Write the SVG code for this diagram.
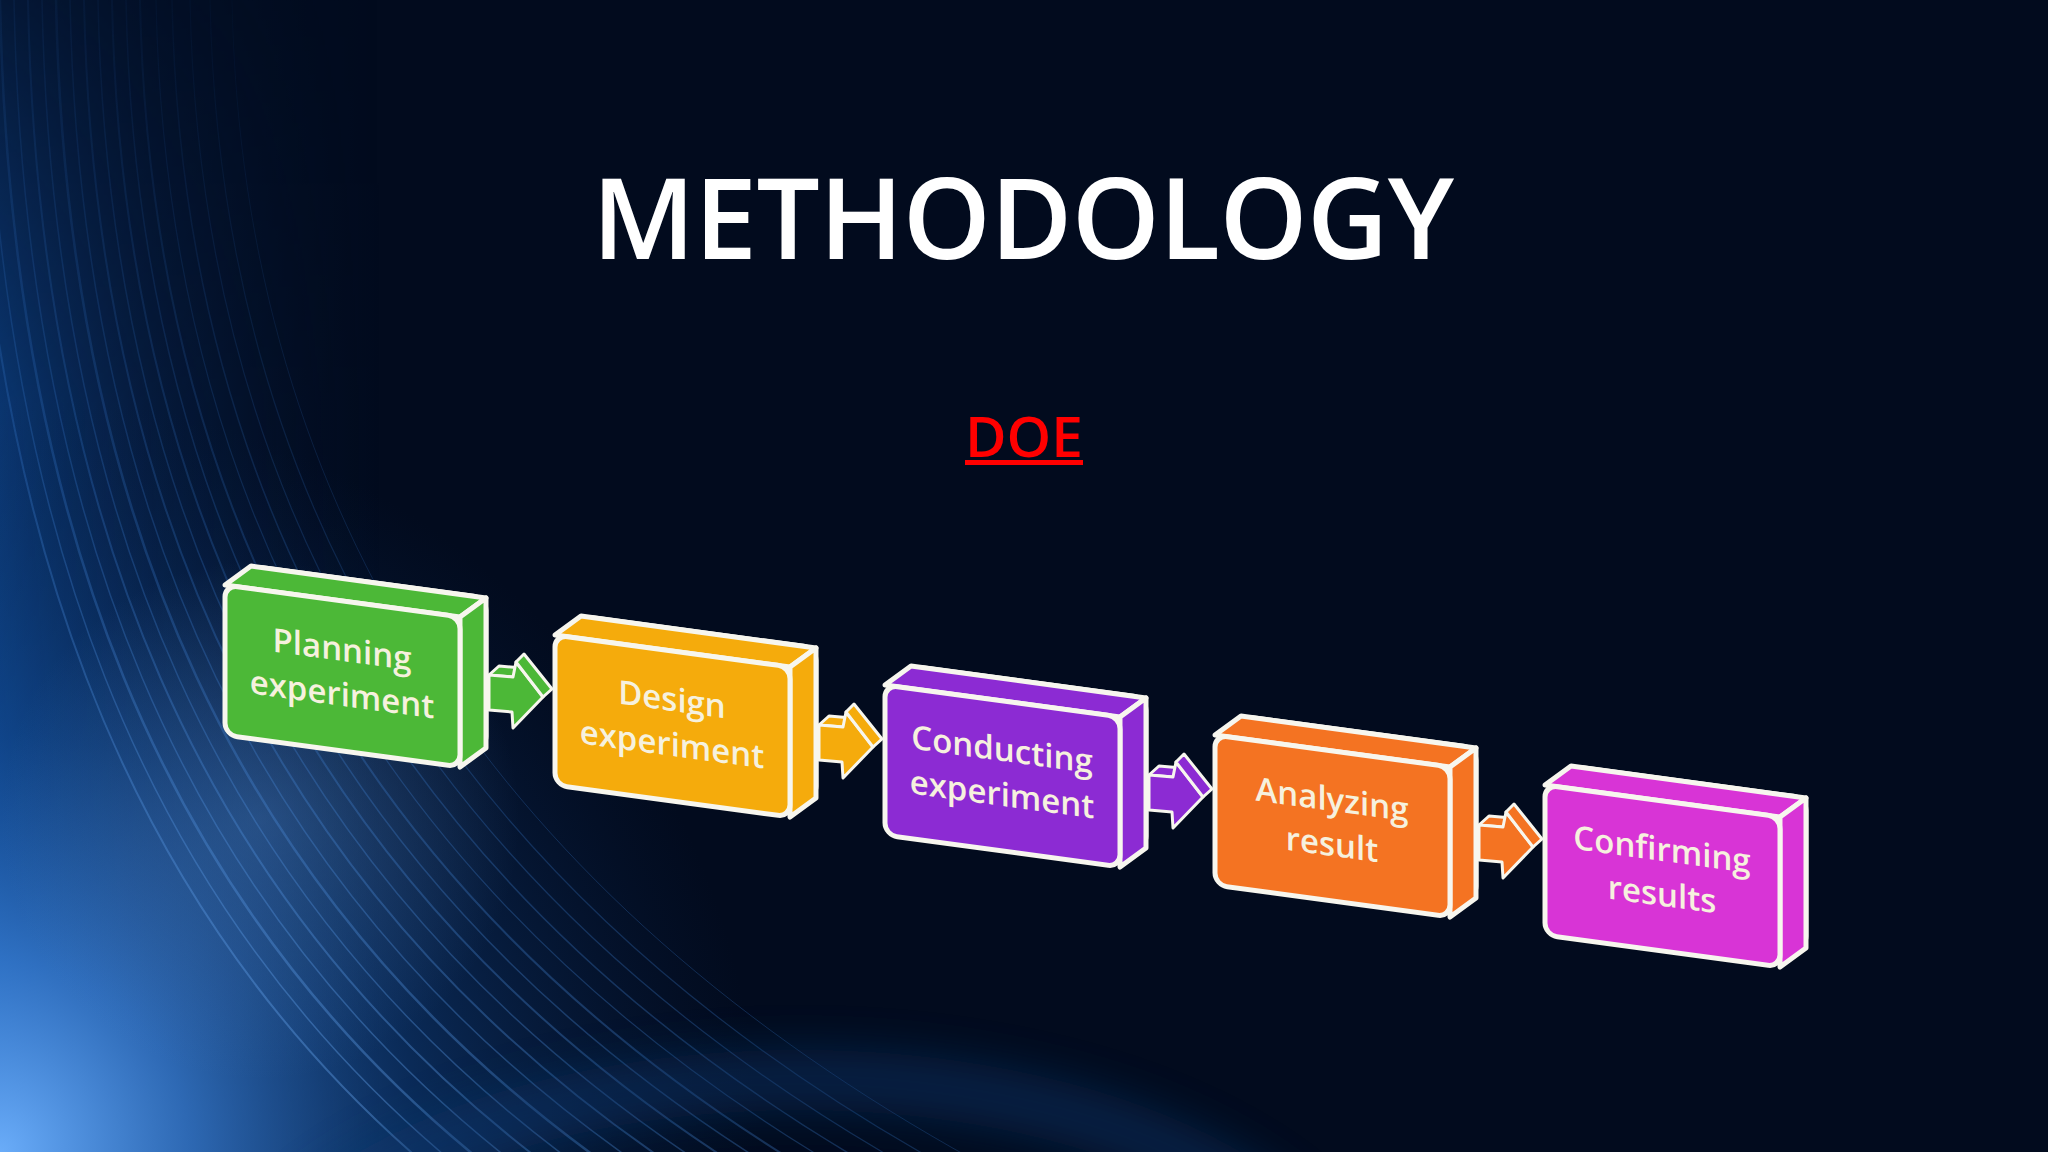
<svg xmlns="http://www.w3.org/2000/svg" xmlns:xlink="http://www.w3.org/1999/xlink" width="2048" height="1152" viewBox="0 0 2048 1152">
  <defs>
    <radialGradient id="gCorner" cx="0" cy="1152" r="760" gradientUnits="userSpaceOnUse">
      <stop offset="0" stop-color="#6fb2ff" stop-opacity="0.95"/>
      <stop offset="0.25" stop-color="#3b83dc" stop-opacity="0.75"/>
      <stop offset="0.55" stop-color="#14519e" stop-opacity="0.45"/>
      <stop offset="1" stop-color="#0a2a5a" stop-opacity="0"/>
    </radialGradient>
    <linearGradient id="gLeft" x1="0" y1="0" x2="380" y2="0" gradientUnits="userSpaceOnUse">
      <stop offset="0" stop-color="#0f4a96" stop-opacity="0.85"/>
      <stop offset="0.4" stop-color="#0b3570" stop-opacity="0.45"/>
      <stop offset="1" stop-color="#061a3a" stop-opacity="0"/>
    </linearGradient>
    <linearGradient id="gLeftFade" x1="0" y1="0" x2="0" y2="1152" gradientUnits="userSpaceOnUse">
      <stop offset="0" stop-color="#fff" stop-opacity="0.25"/>
      <stop offset="0.35" stop-color="#fff" stop-opacity="0.8"/>
      <stop offset="1" stop-color="#fff" stop-opacity="1"/>
    </linearGradient>
    <mask id="mLeft"><rect x="0" y="0" width="600" height="1152" fill="url(#gLeftFade)"/></mask>
    <linearGradient id="gStreak" x1="0" y1="1152" x2="700" y2="250" gradientUnits="userSpaceOnUse">
      <stop offset="0" stop-color="#8cc4ff" stop-opacity="0.55"/>
      <stop offset="0.5" stop-color="#3a7fd6" stop-opacity="0.3"/>
      <stop offset="1" stop-color="#1a4f99" stop-opacity="0"/>
    </linearGradient>
    <radialGradient id="gHaze" cx="260" cy="820" r="260" gradientUnits="userSpaceOnUse">
      <stop offset="0" stop-color="#5b8fd0" stop-opacity="0.35"/>
      <stop offset="1" stop-color="#5b8fd0" stop-opacity="0"/>
    </radialGradient>
    <filter id="blur20" x="-50%" y="-50%" width="200%" height="200%"><feGaussianBlur stdDeviation="22"/></filter>
    <style>
      .edge { stroke: #f7f6ee; stroke-width: 5; stroke-linejoin: round; }
      .aedge { stroke: #f7f6ee; stroke-width: 3; stroke-linejoin: round; }
      .lbl { font-family: "Open Sans", "Noto Sans", sans-serif; font-weight: 600; font-size: 33px; fill: #f6f1de; text-anchor: middle; }
      .streak { fill: none; stroke: url(#gStreak); }
    </style>
    <g id="boxShape">
      <g transform="translate(26,-19) skewY(7.75)"><rect x="0" y="0" width="235" height="150" rx="12" class="edge"/></g>
      <polygon points="0,0 26,-19 261,13 235,32" class="edge"/>
      <polygon points="235,32 261,13 261,163 235,182" class="edge"/>
      <g transform="skewY(7.75)"><rect x="0" y="0" width="235" height="150" rx="12" class="edge"/></g>
    </g>
    <g id="arrowShape">
      <polygon points="264,90 274,81 297,83 288,92" class="aedge"/>
      <polygon points="264,90 288,92 291,77 318,112 288,143 287,127 264,125" class="aedge"/>
      <polygon points="291,77 299,69 327,104 318,112" class="aedge"/>
    </g>
  </defs>

  <!-- background -->
  <rect x="0" y="0" width="2048" height="1152" fill="#020b1e"/>
  <g id="background">
    <rect x="0" y="0" width="420" height="1152" fill="url(#gLeft)" mask="url(#mLeft)"/>
    <rect x="0" y="300" width="1000" height="852" fill="url(#gCorner)"/>
    <rect x="0" y="500" width="600" height="600" fill="url(#gHaze)"/>
    <g opacity="0.9">
      <path class="streak" stroke-width="2" d="M -30 0 C -20 520 120 900 420 1160"/>
      <path class="streak" stroke-width="1.5" d="M -15 0 C -5 520 140 900 450 1160"/>
      <path class="streak" stroke-width="2.5" d="M 0 0 C 10 520 160 900 480 1160"/>
      <path class="streak" stroke-width="1.5" d="M 14 0 C 24 520 180 900 510 1160"/>
      <path class="streak" stroke-width="2" d="M 28 0 C 38 520 200 900 540 1160"/>
      <path class="streak" stroke-width="1.5" d="M 42 0 C 52 520 220 900 570 1160"/>
      <path class="streak" stroke-width="2.5" d="M 56 0 C 66 520 240 900 600 1160"/>
      <path class="streak" stroke-width="1.5" d="M 70 0 C 80 520 262 900 632 1160"/>
      <path class="streak" stroke-width="2" d="M 84 0 C 94 520 284 900 664 1160"/>
      <path class="streak" stroke-width="1.5" d="M 98 0 C 108 520 306 900 696 1160"/>
      <path class="streak" stroke-width="2" d="M 112 0 C 122 520 328 900 728 1160"/>
      <path class="streak" stroke-width="1.5" d="M 126 0 C 136 520 350 900 760 1160"/>
      <path class="streak" stroke-width="2" d="M 140 0 C 150 520 372 900 792 1160"/>
      <path class="streak" stroke-width="1.2" d="M 156 0 C 166 520 396 900 826 1160"/>
      <path class="streak" stroke-width="1.5" d="M 172 0 C 182 520 420 900 860 1160"/>
      <path class="streak" stroke-width="1.2" d="M 190 0 C 200 520 446 900 896 1160"/>
      <path class="streak" stroke-width="1.2" d="M 210 0 C 220 520 474 900 934 1160"/>
      <path class="streak" stroke-width="1" d="M 232 0 C 242 520 504 900 974 1160"/>
    </g>
    <ellipse cx="800" cy="1360" rx="560" ry="280" fill="none" stroke="#0d3a72" stroke-width="60" opacity="0.45" filter="url(#blur20)"/>
  </g>

  <!-- title -->
  <text id="title" x="1023" y="259" font-family="'Open Sans', 'Noto Sans', sans-serif" font-weight="600" font-size="112" fill="#ffffff" text-anchor="middle" textLength="862" lengthAdjust="spacing">METHODOLOGY</text>
  <g id="subtitle">
    <text x="1024" y="457" font-family="'Open Sans', 'Noto Sans', sans-serif" font-weight="600" font-size="56" fill="#ff0000" text-anchor="middle" textLength="118" lengthAdjust="spacingAndGlyphs">DOE</text>
    <rect x="965" y="460" width="118" height="5" fill="#ff0000"/>
  </g>

  <!-- connectors -->
  <g id="connectors">
    <use xlink:href="#arrowShape" href="#arrowShape" transform="translate(225,585)" fill="#4cb837"/>
    <use xlink:href="#arrowShape" href="#arrowShape" transform="translate(555,635)" fill="#f5ab0c"/>
    <use xlink:href="#arrowShape" href="#arrowShape" transform="translate(885,685)" fill="#8c2bd3"/>
    <use xlink:href="#arrowShape" href="#arrowShape" transform="translate(1215,735)" fill="#f47322"/>
  </g>

  <!-- nodes -->
  <g id="node-planning" transform="translate(225,585)">
    <use xlink:href="#boxShape" href="#boxShape" fill="#4cb837"/>
    <g transform="skewY(7.75)">
      <text class="lbl" x="117" y="60">Planning</text>
      <text class="lbl" x="117" y="105">experiment</text>
    </g>
  </g>
  <g id="node-design" transform="translate(555,635)">
    <use xlink:href="#boxShape" href="#boxShape" fill="#f5ab0c"/>
    <g transform="skewY(7.75)">
      <text class="lbl" x="117" y="60">Design</text>
      <text class="lbl" x="117" y="105">experiment</text>
    </g>
  </g>
  <g id="node-conducting" transform="translate(885,685)">
    <use xlink:href="#boxShape" href="#boxShape" fill="#8c2bd3"/>
    <g transform="skewY(7.75)">
      <text class="lbl" x="117" y="60">Conducting</text>
      <text class="lbl" x="117" y="105">experiment</text>
    </g>
  </g>
  <g id="node-analyzing" transform="translate(1215,735)">
    <use xlink:href="#boxShape" href="#boxShape" fill="#f47322"/>
    <g transform="skewY(7.75)">
      <text class="lbl" x="117" y="60">Analyzing</text>
      <text class="lbl" x="117" y="105">result</text>
    </g>
  </g>
  <g id="node-confirming" transform="translate(1545,785)">
    <use xlink:href="#boxShape" href="#boxShape" fill="#d834d6"/>
    <g transform="skewY(7.75)">
      <text class="lbl" x="117" y="60">Confirming</text>
      <text class="lbl" x="117" y="105">results</text>
    </g>
  </g>
</svg>
